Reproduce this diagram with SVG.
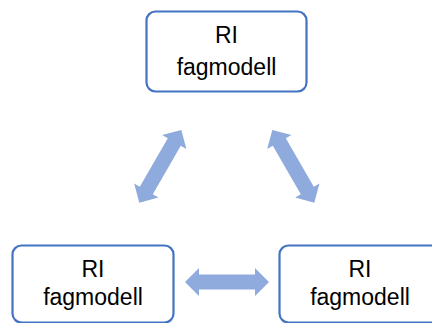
<svg xmlns="http://www.w3.org/2000/svg" width="432" height="323" viewBox="0 0 432 323">
<style>
.box{fill:#fff;stroke:#4472C4;stroke-width:2.2}
.lbl{font-family:"Liberation Sans","Open Sans",sans-serif;font-size:23px;fill:#000;text-anchor:middle}
.arr{fill:#8FAADC}
</style>
<defs>
<path id="dbl" d="M-42,0 L-28,-14 L-28,-7.5 L28,-7.5 L28,-14 L42,0 L28,14 L28,7.5 L-28,7.5 L-28,14 Z"/>
</defs>
<rect width="432" height="323" fill="#fff"/>
<g id="connectors" class="arr">
<use href="#dbl" transform="translate(160.3,166.3) rotate(-60)"/>
<use href="#dbl" transform="translate(293.3,166.3) rotate(60)"/>
<use href="#dbl" transform="translate(227,282)"/>
</g>
<g id="node-top">
<rect class="box" x="146.5" y="11.5" width="160" height="80" rx="9"/>
<text class="lbl" x="226.5" y="43">RI</text>
<text class="lbl" x="226.5" y="75">fagmodell</text>
</g>
<g id="node-left">
<rect class="box" x="12.5" y="245.5" width="161" height="77" rx="9"/>
<text class="lbl" x="93" y="277">RI</text>
<text class="lbl" x="93" y="305">fagmodell</text>
</g>
<g id="node-right">
<rect class="box" x="279.5" y="245.5" width="161" height="77" rx="9"/>
<text class="lbl" x="360" y="277">RI</text>
<text class="lbl" x="360" y="305">fagmodell</text>
</g>
</svg>
